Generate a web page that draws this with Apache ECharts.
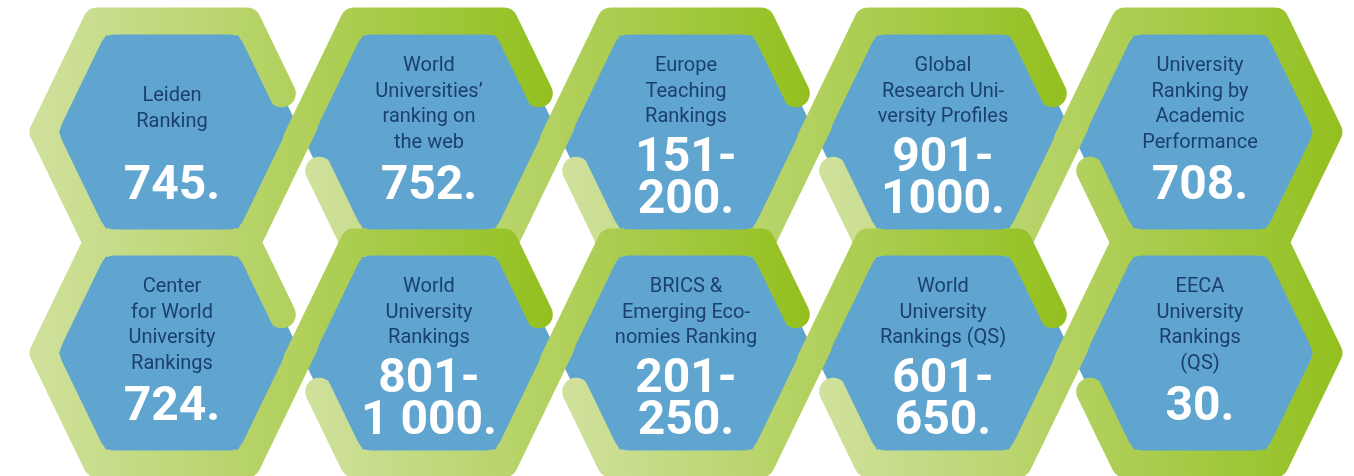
<!DOCTYPE html>
<html>
<head>
<meta charset="utf-8">
<script src="https://cdn.jsdelivr.net/npm/echarts@6/dist/echarts.min.js"></script>
<style>
html, body { margin: 0; padding: 0; background: #fff; }
#chart { width: 1354px; height: 476px; }
</style>
</head>
<body>
<div id="chart"></div>
<script>
// ranking names, row by row, left to right
const labels = [
  'Leiden\nRanking',
  'World\nUniversities’\nranking on\nthe web',
  'Europe\nTeaching\nRankings',
  'Global\nResearch Uni-\nversity Profiles',
  'University\nRanking by\nAcademic\nPerformance',
  'Center\nfor World\nUniversity\nRankings',
  'World\nUniversity\nRankings',
  'BRICS &\nEmerging Eco-\nnomies Ranking',
  'World\nUniversity\nRankings (QS)',
  'EECA\nUniversity\nRankings\n(QS)'
];
const values = ['745.', '752.', '151-\n200.', '901-\n1000.', '708.', '724.', '801-\n1 000.', '201-\n250.', '601-\n650.', '30.'];
const colIndex = [0, 1, 2, 3, 4, 0, 1, 2, 3, 4];
const rowIndex = [0, 0, 0, 0, 0, 1, 1, 1, 1, 1];

const BLUE = '#5fa5cf';
const TEXT = '#1b3f6e';
const GREEN_LIGHT = '#d0e19d';
const GREEN_DARK = '#93c01f';
const RING = 28;

function lerp(p, q, t) {
  return [p[0] + (q[0] - p[0]) * t, p[1] + (q[1] - p[1]) * t];
}
// V0 right, V1 bottom-right, V2 bottom-left, V3 left, V4 top-left, V5 top-right
function hexPoints(x, y, w, h, a) {
  return [[x + w, y], [x + a, y + h], [x - a, y + h], [x - w, y], [x - a, y - h], [x + a, y - h]];
}
function roundedPath(pts, r) {
  let d = '';
  const n = pts.length;
  for (let i = 0; i < n; i++) {
    const prev = pts[(i + n - 1) % n], cur = pts[i], next = pts[(i + 1) % n];
    const l1 = Math.hypot(cur[0] - prev[0], cur[1] - prev[1]);
    const l2 = Math.hypot(next[0] - cur[0], next[1] - cur[1]);
    const p1 = lerp(cur, prev, r / l1), p2 = lerp(cur, next, r / l2);
    d += (i === 0 ? 'M' : 'L') + p1[0] + ' ' + p1[1] + ' Q' + cur[0] + ' ' + cur[1] + ' ' + p2[0] + ' ' + p2[1] + ' ';
  }
  return d + 'Z';
}

function renderItem(params, api) {
  const col = api.value(0), row = api.value(1), idx = api.value(2);
  const c = api.coord([col, row]);
  const w = api.size([1, 0])[0] / 2;
  const h = api.size([0, 1])[1] / 2;
  const a = w * 0.584;
  const V = hexPoints(c[0], c[1], w, h, a);
  const N = hexPoints(c[0] + 2 * w, c[1], w, h, a);
  const children = [];

  // blue body (under the ring)
  children.push({
    type: 'path', z2: 0,
    shape: { pathData: roundedPath(V, 6) },
    style: { fill: BLUE }
  });

  // green ring piece that starts in this cell and runs into the next one
  let pts = null;
  if (col === 0) {
    pts = [lerp(V[5], V[0], 0.65), V[5], V[4], V[3], V[2], V[1], V[0], N[4], N[5], lerp(N[5], N[0], 0.65)];
  } else if (col < 3) {
    pts = [lerp(V[3], V[2], 0.35), V[2], V[1], V[0], N[4], N[5], lerp(N[5], N[0], 0.65)];
  } else if (col === 3) {
    pts = [lerp(V[3], V[2], 0.35), V[2], V[1], V[0], N[4], N[5], N[0], N[1], N[2], lerp(N[3], N[2], 0.35)];
  }
  if (pts) {
    children.push({
      type: 'polyline', z2: 1 + row,
      shape: { points: pts },
      style: {
        fill: null,
        lineWidth: RING,
        lineCap: 'round',
        lineJoin: 'round',
        stroke: new echarts.graphic.LinearGradient(0, 0, 1, 0, [
          { offset: 0, color: GREEN_LIGHT },
          { offset: 1, color: GREEN_DARK }
        ])
      }
    });
  }

  // inner blue face with rounded corners
  const theta = Math.atan2(h, w - a);
  const d = RING / 2 - 1;
  const wi = w - d / Math.sin(theta);
  const hi = h - d;
  const ai = a - d / Math.tan((Math.PI - theta) / 2);
  children.push({
    type: 'path', z2: 5,
    shape: { pathData: roundedPath(hexPoints(c[0], c[1], wi, hi, ai), 10) },
    style: { fill: BLUE }
  });

  const label = labels[idx];
  const nLines = label.split('\n').length;
  children.push({
    type: 'text', z2: 6,
    style: {
      text: label,
      x: c[0],
      y: c[1] - (nLines === 2 ? 36 : 66) - 12.75,
      align: 'center',
      verticalAlign: 'top',
      lineHeight: 25.5,
      fill: TEXT,
      font: '400 20px Roboto'
    }
  });
  const val = values[idx];
  const two = val.indexOf('\n') >= 0;
  children.push({
    type: 'text', z2: 6,
    style: {
      text: val,
      x: c[0],
      y: c[1] + (two ? 48 : 55),
      align: 'center',
      verticalAlign: 'middle',
      lineHeight: 42,
      fill: '#ffffff',
      font: 'bold 48px Roboto'
    }
  });
  return { type: 'group', children };
}

const chart = echarts.init(document.getElementById('chart'));
chart.setOption({
  animation: false,
  grid: { left: 43.5, right: 25.5, top: 21.5, bottom: 12.5 },
  xAxis: { type: 'value', min: -0.5, max: 4.5, show: false },
  yAxis: { type: 'value', min: -0.5, max: 1.5, inverse: true, show: false },
  series: [{
    type: 'custom',
    coordinateSystem: 'cartesian2d',
    clip: false,
    silent: true,
    renderItem: renderItem,
    data: labels.map((_, i) => [colIndex[i], rowIndex[i], i])
  }]
});
</script>
</body>
</html>
